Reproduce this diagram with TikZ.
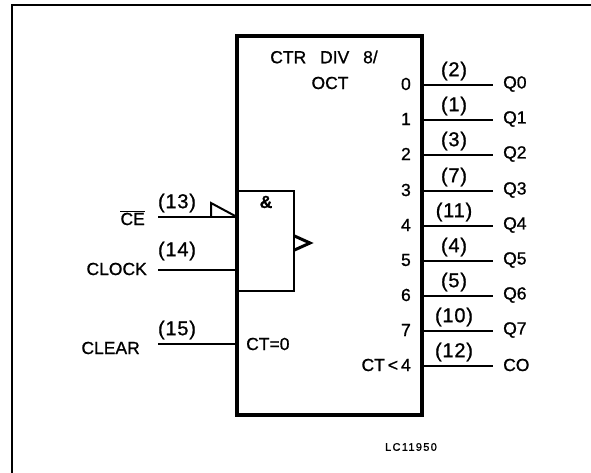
\documentclass[tikz,border=0pt]{standalone}
\usepackage{fontspec}
\setmainfont{Liberation Sans}
\newfontfamily\labelfont[FakeBold=0.9]{Liberation Sans}
\newfontfamily\spacedfont[FakeBold=0.9,LetterSpace=4]{Liberation Sans}
\newfontfamily\drawingfont[FakeBold=1.2,LetterSpace=12]{Liberation Sans}
\usetikzlibrary{positioning}
\tikzset{
  chipbox/.style={draw,line width=3.2pt,inner sep=0pt,outer sep=0pt},
  gatebox/.style={draw,line width=2.4pt,inner sep=0pt,outer sep=0pt},
  pinlabel/.style={inner sep=0pt,font=\labelfont\fontsize{17.5}{19}\selectfont},
  pinnumber/.style={inner sep=0pt,font=\spacedfont\fontsize{20}{22}\selectfont},
  smalllabel/.style={inner sep=0pt,font=\drawingfont\fontsize{11}{13}\selectfont},
}
\begin{document}
\begin{tikzpicture}[x=1pt,y=-1pt]
\useasboundingbox (0,0) rectangle (591,473);
%draw page edge
\coordinate (topleft) at (12.3,5.5);
\coordinate (topright) at (591,5.5);
\coordinate (botleft) at (12.3,473);
\draw [line width=2pt] (botleft) -- (topleft) -- (topright);
%draw counter and gate
\node [chipbox,minimum width=185pt,minimum height=379pt] (ctr) at (329.5,225.5) {};
\node [gatebox,minimum width=57pt,minimum height=100pt] (gate) at (265.5,241) {};
%draw text in counter
\node [pinlabel] (title) at (324,57) {CTR\hspace{9pt} DIV\hspace{9pt} 8/};
\node [pinlabel] (oct) at (330,83) {OCT};
\node [pinlabel] (amp) at (266,202) {\textbf{\&}};
\node [pinlabel,anchor=west] (ctzero) at (246,344) {CT=0};
% outputs: y / pin / output name / width of line
\foreach \y/\pin/\bit/\lw in {85/2/0/2,120/1/1/1.3,155/3/2/2,191/7/3/2,226/11/4/2,261/4/5/2.4,296/5/6/1.8,331/10/7/1.5}{
   \node [pinlabel,anchor=east] (bit\bit) at (411,\y-1) {\bit};
   \node [pinlabel,anchor=west] (q\bit) at (503,\y-1) {Q\bit};
   \coordinate (out\bit) at (493,\y);
   \draw [line width=\lw pt] (ctr.east |- out\bit) -- (out\bit);
   \node [pinnumber] (pin\bit) at (454,\y-14) {(\pin)};
}
% carry output
\node [pinlabel,anchor=east] (ctfour) at (411,365) {CT\hspace{3pt}<\hspace{3pt}4};
\node [pinlabel,anchor=west] (co) at (503,365) {CO};
\coordinate (outco) at (493,366);
\draw [line width=2.4pt] (ctr.east |- outco) -- (outco);
\node [pinnumber] (pinco) at (454,352) {(12)};
% inputs
\node [pinlabel,anchor=east] (ce) at (145,218) {$\overline{\mbox{CE}}$};
\node [pinlabel,anchor=east] (clock) at (147,269) {CLOCK};
\node [pinlabel,anchor=east] (clear) at (140,348) {CLEAR};
\coordinate (ince) at (158,217);
\coordinate (inclock) at (158,270);
\coordinate (inclear) at (158,344);
\draw [line width=1.3pt] (ince) -- (ctr.west |- ince);
\draw [line width=2pt] (inclock) -- (ctr.west |- inclock);
\draw [line width=1.3pt] (inclear) -- (ctr.west |- inclear);
\node [pinnumber] (pince) at (177,203) {(13)};
\node [pinnumber] (pinclock) at (177,251) {(14)};
\node [pinnumber] (pinclear) at (177,330) {(15)};
% polarity marks
\coordinate (ceup) at (211,203);
\coordinate (cefoot) at (211,217);
\draw [line width=2pt] (cefoot) -- (ceup) -- (ctr.west |- ince);
\coordinate (trigtop) at (294.5,236);
\coordinate (trigtip) at (310,243);
\coordinate (trigbot) at (294.5,250);
\draw [line width=3pt] (trigtop) -- (trigtip) -- (trigbot);
% drawing number
\node [smalllabel] (lcnum) at (411,447) {LC11950};
\end{tikzpicture}
\end{document}
